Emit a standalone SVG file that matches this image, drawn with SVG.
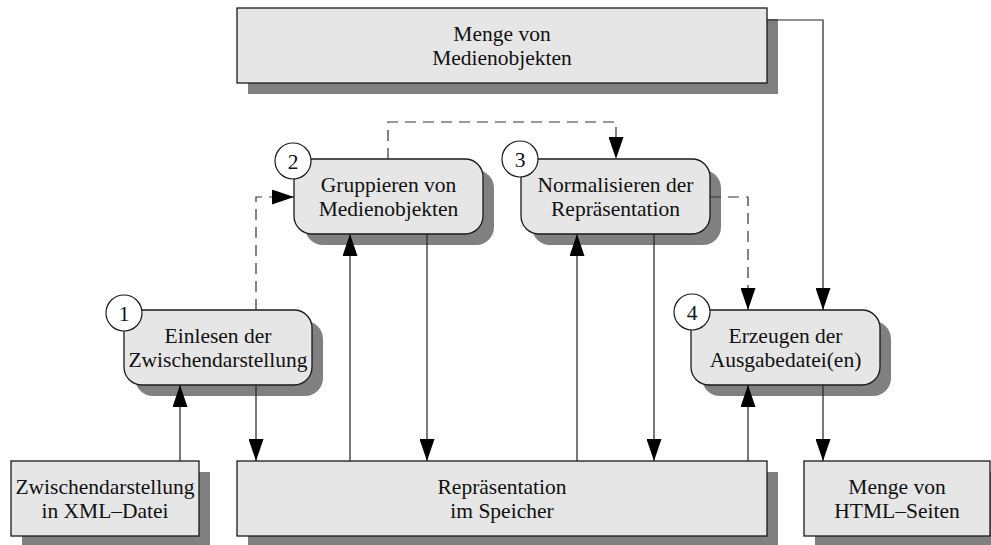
<svg xmlns="http://www.w3.org/2000/svg" width="991" height="545" viewBox="0 0 991 545">
  <style>
    .shadow { fill: #808080; }
    .box { fill: #e6e6e6; stroke: #1a1a1a; stroke-width: 1.3; }
    .num { fill: #ffffff; stroke: #1a1a1a; stroke-width: 1.2; }
    text { font-family: "Liberation Serif", "Times New Roman", serif; font-size: 21.5px; fill: #111; text-anchor: middle; }
    .flow { fill: none; stroke: #222; stroke-width: 1.2; }
    .dash { fill: none; stroke: #333; stroke-width: 1.2; stroke-dasharray: 11 7; }
  </style>
  <defs>
    <marker id="ah" viewBox="0 0 22 15" refX="22" refY="7.5" markerWidth="22" markerHeight="15" markerUnits="userSpaceOnUse" orient="auto">
      <path d="M0,0 L22,7.5 L0,15 z" fill="#000"/>
    </marker>
  </defs>

  <rect width="991" height="545" fill="#ffffff"/>

  <!-- data stores -->
  <g id="medienobjekte">
    <rect class="shadow" x="248" y="19" width="530" height="75"/>
    <rect class="box" x="237" y="8" width="530" height="75"/>
    <text x="502" y="40.5">Menge von</text>
    <text x="502" y="64.5">Medienobjekten</text>
  </g>

  <g id="xml-datei">
    <rect class="shadow" x="22" y="472" width="188" height="75"/>
    <rect class="box" x="11" y="461" width="188" height="75"/>
    <text x="105" y="493.5">Zwischendarstellung</text>
    <text x="105" y="517.5">in XML–Datei</text>
  </g>

  <g id="speicher">
    <rect class="shadow" x="248" y="472" width="530" height="75"/>
    <rect class="box" x="237" y="461" width="530" height="75"/>
    <text x="502" y="493.5">Repräsentation</text>
    <text x="502" y="517.5">im Speicher</text>
  </g>

  <g id="html-seiten">
    <rect class="shadow" x="815" y="472" width="188" height="75"/>
    <rect class="box" x="804" y="461" width="186" height="75"/>
    <text x="897" y="493.5">Menge von</text>
    <text x="897" y="517.5">HTML–Seiten</text>
  </g>

  <!-- processing steps -->
  <g id="schritt1">
    <rect class="shadow" x="135" y="321" width="188" height="75" rx="18"/>
    <rect class="box" x="124" y="310" width="188" height="75" rx="18"/>
    <text x="218" y="342.5">Einlesen der</text>
    <text x="218" y="366.5">Zwischendarstellung</text>
    <circle class="num" cx="124" cy="313" r="18"/>
    <text x="124" y="320.5">1</text>
  </g>

  <g id="schritt2">
    <rect class="shadow" x="305" y="170" width="189" height="75" rx="18"/>
    <rect class="box" x="294" y="159" width="189" height="75" rx="18"/>
    <text x="388.5" y="191.5">Gruppieren von</text>
    <text x="388.5" y="215.5">Medienobjekten</text>
    <circle class="num" cx="293" cy="161" r="18"/>
    <text x="293" y="168.5">2</text>
  </g>

  <g id="schritt3">
    <rect class="shadow" x="532" y="170" width="189" height="75" rx="18"/>
    <rect class="box" x="521" y="159" width="189" height="75" rx="18"/>
    <text x="615.5" y="191.5">Normalisieren der</text>
    <text x="615.5" y="215.5">Repräsentation</text>
    <circle class="num" cx="520" cy="159" r="18"/>
    <text x="520" y="166.5">3</text>
  </g>

  <g id="schritt4">
    <rect class="shadow" x="702" y="321" width="189" height="75" rx="18"/>
    <rect class="box" x="691" y="310" width="189" height="75" rx="18"/>
    <text x="785.5" y="342.5">Erzeugen der</text>
    <text x="785.5" y="366.5">Ausgabedatei(en)</text>
    <circle class="num" cx="692" cy="312" r="18"/>
    <text x="692" y="319.5">4</text>
  </g>

  <!-- connectors -->
  <g id="connectors">
    <!-- data flow -->
    <path class="flow" d="M180,461 V385" marker-end="url(#ah)"/>
    <path class="flow" d="M256,385 V461" marker-end="url(#ah)"/>
    <path class="flow" d="M350,461 V234" marker-end="url(#ah)"/>
    <path class="flow" d="M427,234 V461" marker-end="url(#ah)"/>
    <path class="flow" d="M577,461 V234" marker-end="url(#ah)"/>
    <path class="flow" d="M654,234 V461" marker-end="url(#ah)"/>
    <path class="flow" d="M748,461 V385" marker-end="url(#ah)"/>
    <path class="flow" d="M823,385 V461" marker-end="url(#ah)"/>
    <path class="flow" d="M767,20 H823 V310" marker-end="url(#ah)"/>
    <!-- control flow -->
    <path class="dash" d="M256,310 V197 H294" marker-end="url(#ah)"/>
    <path class="dash" d="M388,159 V122 H616 V159" marker-end="url(#ah)"/>
    <path class="dash" d="M710,197 H748 V310" marker-end="url(#ah)"/>
  </g>
</svg>
